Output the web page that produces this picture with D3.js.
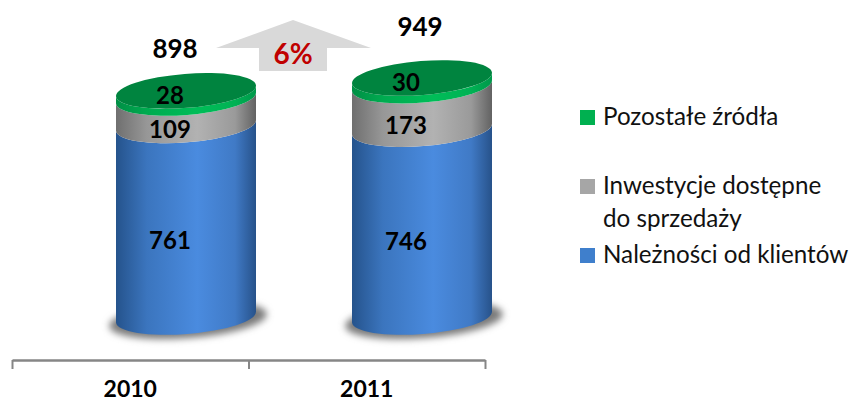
<!DOCTYPE html>
<html>
<head>
<meta charset="utf-8">
<script src="https://d3js.org/d3.v7.min.js"></script>
<style>
html, body { margin: 0; padding: 0; background: #fff; overflow: hidden; }
text { font-family: Lato, "Noto Sans", sans-serif; }
</style>
</head>
<body>
<div id="chart"></div>
<script>
// data
var years = ["2010", "2011"];
var receivables = [761, 746];
var investments = [109, 173];
var other = [28, 30];
var totals = [898, 949];
var growth = "6%";
var legendItems = [
    { lines: ["Pozostałe źródła"], color: "#00b050" },
    { lines: ["Inwestycje dostępne", "do sprzedaży"], color: "#a6a6a6" },
    { lines: ["Należności od klientów"], color: "#3f7fcc" }
];

var svgW = 853;
var svgH = 402;

var svg = d3.select("#chart")
    .append("svg")
    .attr("width", svgW)
    .attr("height", svgH);

// scales
var xLabel = d3.scaleBand().domain(years).range([12, 485]);
var xBar = d3.scaleBand().domain(years).range([68, 540]);
var y = d3.scaleLinear().domain([0, 949]).range([317, 78]);

// cylinder shape: tilted ellipse
var rx = 70;
var ry = 17;
var tilt = 5.5;
var rot = -4.5;

var defs = svg.append("defs");

function gradient(id, edgeL, mid, edgeR) {
    var g = defs.append("linearGradient").attr("id", id);
    g.append("stop").attr("offset", "0%").attr("stop-color", edgeL);
    g.append("stop").attr("offset", "22%").attr("stop-color", d3.interpolateRgb(edgeL, mid)(0.6));
    g.append("stop").attr("offset", "58%").attr("stop-color", mid);
    g.append("stop").attr("offset", "85%").attr("stop-color", d3.interpolateRgb(edgeR, mid)(0.7));
    g.append("stop").attr("offset", "100%").attr("stop-color", edgeR);
}
gradient("blue", "#25538c", "#4a8bdf", "#27528a");
gradient("grey", "#6f6f6f", "#b2b2b2", "#626262");
gradient("green", "#008f45", "#00bd58", "#00984a");

defs.append("filter")
    .attr("id", "blur")
    .attr("x", "-20%").attr("y", "-50%")
    .attr("width", "140%").attr("height", "200%")
    .append("feGaussianBlur")
    .attr("stdDeviation", 3.5);

// side wall of one stacked segment
function side(cx, yTop, yBot) {
    var l = cx - rx;
    var r = cx + rx;
    return "M" + l + "," + (yTop + tilt) +
        "L" + l + "," + (yBot + tilt) +
        "A" + rx + "," + ry + " " + rot + " 0 0 " + r + "," + (yBot - tilt) +
        "L" + r + "," + (yTop - tilt) +
        "A" + rx + "," + ry + " " + rot + " 0 1 " + l + "," + (yTop + tilt) + "Z";
}

var bars = svg.selectAll(".bar")
    .data(years)
    .enter().append("g")
    .attr("class", "bar");

// shadow under the base
bars.append("ellipse")
    .attr("cx", function(d) { return xBar(d) + xBar.step() / 2 + 2; })
    .attr("cy", y(0) + 3)
    .attr("rx", rx + 9)
    .attr("ry", ry + 1)
    .attr("transform", function(d) {
        return "rotate(" + rot + " " + (xBar(d) + xBar.step() / 2 + 2) + " " + (y(0) + 3) + ")";
    })
    .attr("fill", "#7a7a7a")
    .attr("filter", "url(#blur)");

bars.each(function(d, i) {
    var g = d3.select(this);
    var cx = xBar(d) + xBar.step() / 2;
    var a = receivables[i];
    var b = a + investments[i];
    var c = b + other[i];

    g.append("path").attr("d", side(cx, y(a), y(0))).attr("fill", "url(#blue)");
    g.append("path").attr("d", side(cx, y(b), y(a))).attr("fill", "url(#grey)");
    g.append("path").attr("d", side(cx, y(c), y(b))).attr("fill", "url(#green)");
    g.append("ellipse")
        .attr("cx", cx)
        .attr("cy", y(c))
        .attr("rx", rx + 0.2)
        .attr("ry", ry)
        .attr("transform", "rotate(" + rot + " " + cx + " " + y(c) + ")")
        .attr("fill", "#00843f");

    // value labels
    var labels = [
        { v: receivables[i], mid: (y(0) + y(a)) / 2 + ry + 2 },
        { v: investments[i], mid: (y(a) + y(b)) / 2 + ry + 1 },
        { v: other[i], mid: (y(b) + y(c)) / 2 + 1 }
    ];
    labels.forEach(function(l) {
        g.append("text")
            .attr("x", cx - 16)
            .attr("y", l.mid)
            .attr("dy", "0.35em")
            .attr("text-anchor", "middle")
            .attr("font-size", 24)
            .attr("font-weight", 700)
            .attr("fill", "#000")
            .text(l.v);
    });
});

// totals
var totalOffsetX = [-11, -2];
var totalOffsetY = [-33, -42];
svg.selectAll(".total")
    .data(totals)
    .enter().append("text")
    .attr("class", "total")
    .attr("x", function(d, i) { return xBar(years[i]) + xBar.step() / 2 + totalOffsetX[i]; })
    .attr("y", function(d, i) { return y(d) + totalOffsetY[i]; })
    .attr("text-anchor", "middle")
    .attr("font-size", 26)
    .attr("font-weight", 700)
    .attr("fill", "#000")
    .text(function(d) { return d; });

// growth arrow
svg.append("path")
    .attr("d", "M293,20L371,48L327,48L327,71L259,71L259,48L216,48Z")
    .attr("fill", "#d9d9d9");
svg.append("text")
    .attr("x", 293)
    .attr("y", 64)
    .attr("text-anchor", "middle")
    .attr("font-size", 28)
    .attr("font-weight", 700)
    .attr("fill", "#c00000")
    .text(growth);

// axis with ticks at the category edges
var xEdge = d3.scaleLinear().domain([0, 2]).range([12, 485]);
var axis = svg.append("g")
    .attr("transform", "translate(0,360)")
    .call(d3.axisBottom(xEdge).tickValues([0, 1, 2]).tickSize(9).tickSizeOuter(0).tickFormat(""));
axis.select(".domain").attr("stroke", "#868686").attr("stroke-width", 2.5);
axis.selectAll(".tick line").attr("stroke", "#868686").attr("stroke-width", 2);

svg.selectAll(".year")
    .data(years)
    .enter().append("text")
    .attr("class", "year")
    .attr("x", function(d) { return xLabel(d) + xLabel.step() / 2; })
    .attr("y", 397)
    .attr("text-anchor", "middle")
    .attr("font-size", 23)
    .attr("font-weight", 700)
    .attr("fill", "#000")
    .text(function(d) { return d; });

// legend
var legendY = [110, 179, 248];
var legend = svg.selectAll(".legend")
    .data(legendItems)
    .enter().append("g")
    .attr("class", "legend")
    .attr("transform", function(d, i) { return "translate(580," + legendY[i] + ")"; });

legend.append("rect")
    .attr("width", 15)
    .attr("height", 15)
    .attr("fill", function(d) { return d.color; });

legend.each(function(d) {
    var g = d3.select(this);
    d.lines.forEach(function(line, k) {
        g.append("text")
            .attr("x", 23)
            .attr("y", 15 + k * 33)
            .attr("font-size", 24.2)
            .attr("fill", "#111")
            .text(line);
    });
});
</script>
</body>
</html>
